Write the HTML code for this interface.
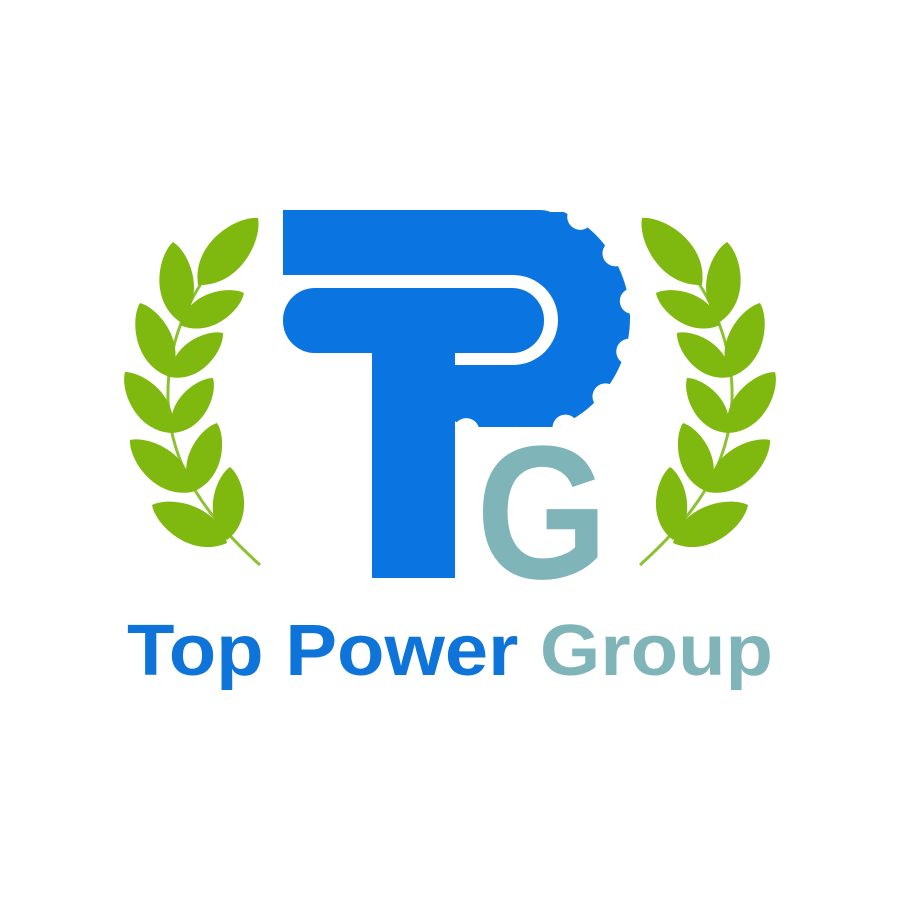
<!DOCTYPE html>
<html><head><meta charset="utf-8"><style>
html,body{margin:0;padding:0;background:#fff;}
svg{display:block;}
</style></head><body>
<svg id="logo" width="900" height="900" viewBox="0 0 900 900" xmlns="http://www.w3.org/2000/svg">
  <defs>
    <clipPath id="gearClip"><rect x="454" y="212" width="200" height="215"/></clipPath>
  </defs>
  <rect width="900" height="900" fill="#fff"/>
  <g id="laurel-left"></g>
  <g id="laurel-right" transform="translate(900,0) scale(-1,1)"></g>

  <g clip-path="url(#gearClip)">
    <circle cx="512" cy="318" r="118" fill="#0a74e0"/>
    <g id="notches" fill="#fff"></g>
  </g>
  <path d="M283 210 H540 Q552 210 557 218 V275 H283 Z" fill="#0a74e0"/>
  <rect x="283" y="275" width="275" height="90" rx="45" fill="#fff"/>
  <rect x="283" y="275" width="200" height="13" fill="#fff"/>
  <rect x="283" y="288" width="261" height="65" rx="32" fill="#0a74e0"/>
  <rect x="372" y="352" width="83" height="226" fill="#0a74e0"/>
  <text x="476" y="578" font-family="Liberation Sans, sans-serif" font-weight="bold" font-size="190" textLength="132" lengthAdjust="spacingAndGlyphs" fill="#7fb5b9">G</text>

  <text x="127" y="675" font-family="Liberation Sans, sans-serif" font-weight="bold" font-size="72" textLength="646" lengthAdjust="spacingAndGlyphs"><tspan fill="#0e74d9">Top Power </tspan><tspan fill="#7fb5b9">Group</tspan></text>
</svg>
<script>
var NS='http://www.w3.org/2000/svg';
var leaves=[[198,285,258,218],[180,322,173,242],[180,325,244,293],[170,377,140,303],[170,377,223,333],[172,433,125,372],[172,433,213,378],[192,492,130,440],[192,492,217,423],[227,543,152,505],[227,540,230,467]];
function build(g){
  var stem=document.createElementNS(NS,'path');
  stem.setAttribute('d','M260 565 C210 520 170 470 168 400 C166 330 200 270 256 220');
  stem.setAttribute('stroke','#8cc230');stem.setAttribute('stroke-width','3');stem.setAttribute('fill','none');
  
  
  g.appendChild(stem);
  leaves.forEach(function(l){
    var bx=l[0],by=l[1],tx=l[2],ty=l[3];
    var dx=tx-bx,dy=ty-by;
    var nx=-dy*0.36,ny=dx*0.36;
    var p=document.createElementNS(NS,'path');
    var c1x=bx+dx*0.3+nx,c1y=by+dy*0.3+ny,c2x=bx+dx*0.3-nx,c2y=by+dy*0.3-ny;
    var c3x=bx+dx*0.85+nx*0.55,c3y=by+dy*0.85+ny*0.55,c4x=bx+dx*0.85-nx*0.55,c4y=by+dy*0.85-ny*0.55;
    p.setAttribute('d','M'+bx+' '+by+' C'+c1x+' '+c1y+' '+c3x+' '+c3y+' '+tx+' '+ty+' C'+c4x+' '+c4y+' '+c2x+' '+c2y+' '+bx+' '+by+'Z');
    p.setAttribute('fill','#7fb80e');
    
    
    g.appendChild(p);
  });
}
build(document.getElementById('laurel-left'));
build(document.getElementById('laurel-right'));
var n=document.getElementById('notches');
for(var a=-80;a<=200;a+=24){
  var r=a*Math.PI/180;
  var c=document.createElementNS(NS,'circle');
  c.setAttribute('cx',512+122*Math.cos(r));c.setAttribute('cy',318+122*Math.sin(r));c.setAttribute('r',13);
  
  
  n.appendChild(c);
}
</script>
</body></html>
